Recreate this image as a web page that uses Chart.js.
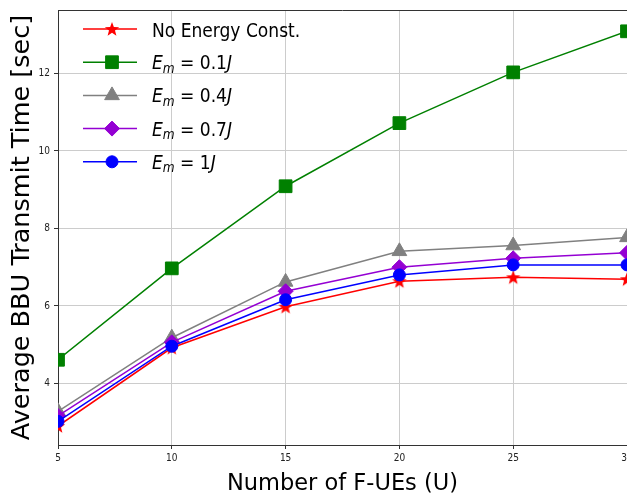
<!DOCTYPE html>
<html>
<head>
<meta charset="utf-8">
<title>Average BBU Transmit Time</title>
<script src="https://cdn.jsdelivr.net/npm/chart.js@4.4.1/dist/chart.umd.min.js"></script>
<style>
  html, body { margin: 0; padding: 0; background: #fff; }
  #wrap { width: 627px; height: 493px; position: relative; }
</style>
</head>
<body>
<div id="wrap"><canvas id="chart" width="627" height="493"></canvas></div>
<script>
// data
const numUEs = [5, 10, 15, 20, 25, 30];
const noEnergy = [2.9, 4.92, 5.98, 6.64, 6.74, 6.69];
const em01 = [4.61, 6.97, 9.09, 10.72, 12.03, 13.09];
const em04 = [3.28, 5.18, 6.62, 7.41, 7.56, 7.77];
const em07 = [3.16, 5.06, 6.38, 7.0, 7.23, 7.37];
const em1 = [3.02, 4.96, 6.16, 6.8, 7.06, 7.06];
const seriesNames = ['No Energy Const.', 'E_m = 0.1J', 'E_m = 0.4J', 'E_m = 0.7J', 'E_m = 1J'];
const xTicks = [5, 10, 15, 20, 25, 30];
const yTicks = [4, 6, 8, 10, 12];

const FONT = "'DejaVu Sans Condensed', 'DejaVu Sans', sans-serif";
const FONT_WIDE = "'DejaVu Sans', sans-serif";

// matplotlib style filled star marker
function makeStar(color, size) {
  const c = document.createElement('canvas');
  c.width = size; c.height = size;
  const g = c.getContext('2d');
  const r = size / 2 - 0.5, ri = r * 0.42;
  g.beginPath();
  for (let k = 0; k < 10; k++) {
    const rad = (k % 2 === 0) ? r : ri;
    const a = -Math.PI / 2 + k * Math.PI / 5;
    g.lineTo(size / 2 + rad * Math.cos(a), size / 2 + 0.6 + rad * Math.sin(a));
  }
  g.closePath();
  g.fillStyle = color;
  g.fill();
  return c;
}

function pts(ys) {
  return numUEs.map((x, i) => ({ x: x, y: ys[i] }));
}

function series(idx, ys, color, style, radius) {
  return {
    label: seriesNames[idx],
    data: pts(ys),
    borderColor: color,
    backgroundColor: color,
    pointBackgroundColor: color,
    pointBorderColor: color,
    pointBorderWidth: 1,
    borderWidth: 1.5,
    pointStyle: style,
    pointRadius: radius,
    pointHoverRadius: radius,
    tension: 0,
    order: 4 - idx   // later series drawn on top, like matplotlib
  };
}

// draws "E_m = 0.1J" the way mathtext does (italic E, subscript m, italic J)
function drawLabel(ctx, text, x, y) {
  const m = /^E_m = (.+)J$/.exec(text);
  ctx.fillStyle = '#000';
  ctx.textBaseline = 'alphabetic';
  ctx.textAlign = 'left';
  if (!m) {
    ctx.font = '19px ' + FONT;
    ctx.fillText(text, x, y + 7.5);
    return;
  }
  const parts = [
    { t: 'E', f: 'italic 19px ' + FONT, dy: 7 },
    { t: 'm', f: 'italic 13.5px ' + FONT, dy: 10.5 },
    { t: ' = ' + m[1], f: '19px ' + FONT, dy: 7 },
    { t: 'J', f: 'italic 19px ' + FONT, dy: 7 }
  ];
  parts.forEach(p => {
    ctx.font = p.f;
    ctx.fillText(p.t, x, y + p.dy);
    x += ctx.measureText(p.t).width;
  });
}

const legendPlugin = {
  id: 'mplLegend',
  afterDraw(chart) {
    const ctx = chart.ctx;
    const top = chart.chartArea.top;
    ctx.save();
    // back into plotting order for the legend
    const sets = chart.data.datasets.slice().sort((a, b) => b.order - a.order);
    sets.forEach((ds, i) => {
      const y = top + 19 + i * 33.2;
      ctx.strokeStyle = ds.borderColor;
      ctx.lineWidth = 1.5;
      ctx.beginPath();
      ctx.moveTo(83, y);
      ctx.lineTo(137, y);
      ctx.stroke();
      ctx.fillStyle = ds.pointBackgroundColor;
      ctx.strokeStyle = ds.pointBorderColor;
      ctx.lineWidth = 1;
      Chart.helpers.drawPoint(ctx, { pointStyle: ds.pointStyle, radius: ds.pointRadius, rotation: 0, borderWidth: 1 }, 112, y);
      drawLabel(ctx, ds.label, 152, y);
    });
    ctx.restore();
  }
};

// top spine
const framePlugin = {
  id: 'frame',
  afterDraw(chart) {
    const { ctx, chartArea: a } = chart;
    ctx.save();
    ctx.strokeStyle = '#333';
    ctx.lineWidth = 1;
    ctx.beginPath();
    ctx.moveTo(a.left, a.top + 0.5);
    ctx.lineTo(a.right, a.top + 0.5);
    ctx.stroke();
    ctx.restore();
  }
};

const datasets = [
  series(0, noEnergy, '#ff0000', makeStar('#ff0000', 16), 8),
  series(1, em01, '#008000', 'rect', 9),
  series(2, em04, '#808080', 'triangle', 8.5),
  series(3, em07, '#9400d3', 'rectRot', 7.5),
  series(4, em1, '#0000ff', 'circle', 6)
];

new Chart(document.getElementById('chart'), {
  type: 'line',
  data: { datasets: datasets },
  plugins: [framePlugin, legendPlugin],
  options: {
    responsive: false,
    animation: false,
    layout: { autoPadding: false, padding: { top: 10, right: 0, left: 0, bottom: 0 } },
    plugins: { legend: { display: false }, tooltip: { enabled: false } },
    scales: {
      x: {
        type: 'linear',
        min: 5,
        max: 30,
        afterBuildTicks: s => { s.ticks = xTicks.map(v => ({ value: v })); },
        afterFit: s => { s.height = 48; s.paddingLeft = 0; s.paddingRight = 0; },
        grid: { color: '#cccccc', lineWidth: 1, tickColor: '#333', tickLength: 4 },
        border: { color: '#333', width: 1 },
        ticks: { font: { family: FONT, size: 10 }, color: '#222', padding: 3, maxRotation: 0, autoSkip: false },
        title: {
          display: true,
          text: 'Number of F-UEs (U)',
          font: { family: FONT_WIDE, size: 22.5, lineHeight: 0.8 },
          color: '#000',
          padding: { top: 0, bottom: 0 }
        }
      },
      y: {
        min: 2.41,
        max: 13.64,
        afterBuildTicks: s => { s.ticks = yTicks.map(v => ({ value: v })); },
        afterFit: s => { s.width = 58; s.paddingTop = 0; s.paddingBottom = 0; },
        grid: { color: '#cccccc', lineWidth: 1, tickColor: '#333', tickLength: 4 },
        border: { color: '#333', width: 1 },
        ticks: { font: { family: FONT, size: 10 }, color: '#222', padding: 4 },
        title: {
          display: true,
          text: 'Average BBU Transmit Time [sec]',
          font: { family: FONT_WIDE, size: 25.5, lineHeight: 1 },
          color: '#000',
          padding: { top: 10, bottom: 0 }
        }
      }
    }
  }
});
</script>
</body>
</html>
